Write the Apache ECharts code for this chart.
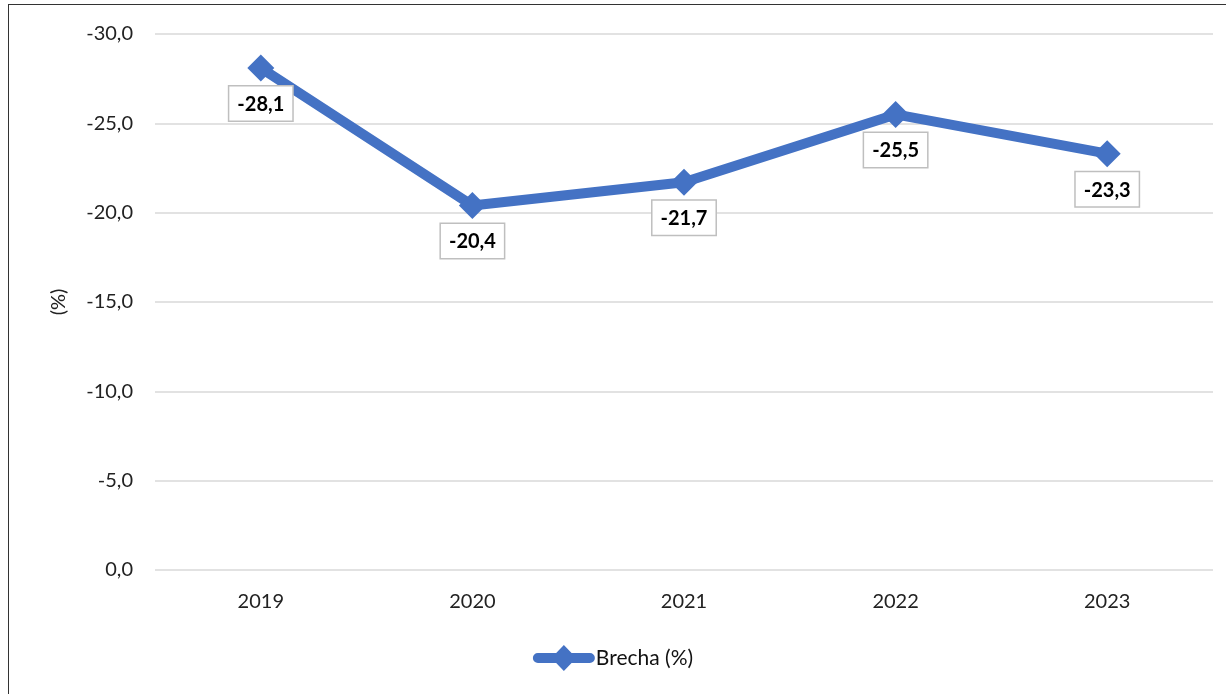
<!DOCTYPE html>
<html><head><meta charset="utf-8">
<script src="https://cdn.jsdelivr.net/npm/echarts@6/dist/echarts.min.js"></script>
<style>
html,body{margin:0;padding:0;background:#fff;}
#frame{position:absolute;left:8px;top:4px;width:1230px;height:700px;border:1.5px solid #333;box-sizing:border-box;}
#c{position:absolute;left:0;top:0;width:1226px;height:694px;}
</style></head>
<body>
<div id="frame"></div>
<div id="c"></div>
<script>
const categories = ['2019','2020','2021','2022','2023'];
const brecha = [-28.1, -20.4, -21.7, -25.5, -23.3];
const seriesName = 'Brecha (%)';
const fmt = v => v.toFixed(1).replace('.', ',');
const FONT = 'Lato, "Open Sans", sans-serif';
const legendIcon = 'path://M5,8 L23.3,8 L31,0 L38.7,8 L57,8 A5,5 0 0 1 57,18 L38.7,18 L31,26 L23.3,18 L5,18 A5,5 0 0 1 5,8 Z';
const chart = echarts.init(document.getElementById('c'));
chart.setOption({
  animation:false,
  grid:{left:155, right:13, top:34, bottom:124, containLabel:false},
  legend:{bottom:18, left:'center', itemWidth:62, itemHeight:26, itemGap:0,
    icon:legendIcon,
    textStyle:{fontFamily:FONT, fontSize:21, color:'#111', padding:[0,0,0,-4]},
    data:[seriesName]},
  xAxis:{type:'category', data:categories, boundaryGap:true,
    axisLine:{show:false}, axisTick:{show:false},
    axisLabel:{fontFamily:FONT, fontSize:20, color:'#222', margin:22}},
  yAxis:{type:'value', inverse:true, min:-30, max:0, interval:5,
    name:'(%)', nameLocation:'middle', nameGap:86, nameRotate:90,
    nameTextStyle:{fontFamily:FONT, fontSize:20, color:'#222'},
    axisLine:{show:false}, axisTick:{show:false},
    splitLine:{lineStyle:{color:'#d9d9d9', width:1.5}},
    axisLabel:{fontFamily:FONT, fontSize:20, color:'#222', margin:22, formatter:v=>fmt(v)}},
  series:[{
    name:seriesName, type:'line', data:brecha,
    symbol:'diamond', symbolSize:27,
    lineStyle:{color:'#4472C4', width:10},
    itemStyle:{color:'#4472C4'},
    label:{show:true, position:'bottom', distance:5,
      formatter:p=>fmt(p.value),
      fontFamily:FONT, fontSize:20, fontWeight:'bold', color:'#000',
      backgroundColor:'#fff', borderColor:'#bfbfbf', borderWidth:1.5,
      padding:[8,8,6,8]}
  }]
});
</script>
</body></html>
